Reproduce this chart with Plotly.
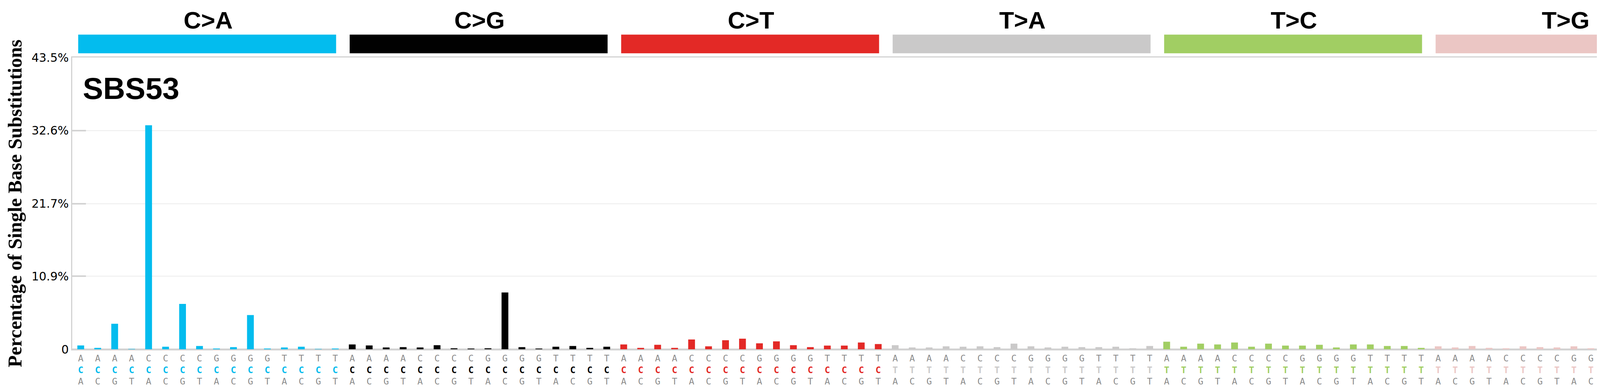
import plotly.graph_objects as go

mut_types = ["C>A", "C>G", "C>T", "T>A", "T>C", "T>G"]
colors = ["#03BCEE", "#010101", "#E32926", "#CAC9C9", "#A1CE63", "#EBC6C4"]
contexts = ["ACA","ACC","ACG","ACT","CCA","CCC","CCG","CCT","GCA","GCC","GCG","GCT","TCA","TCC","TCG","TCT"]
ca = [0.57,0.21,3.8,0.02,33.4,0.38,6.76,0.49,0.06,0.32,5.1,0.1,0.27,0.38,0.04,0.1]
cg = [0.72,0.57,0.27,0.32,0.27,0.61,0.15,0.06,0.15,8.47,0.32,0.06,0.38,0.49,0.21,0.38]
ct = [0.72,0.21,0.67,0.21,1.46,0.44,1.35,1.58,0.89,1.18,0.61,0.32,0.55,0.55,1.01,0.78]
ta = [0.61,0.27,0.27,0.44,0.38,0.44,0.32,0.84,0.44,0.27,0.38,0.32,0.32,0.38,0.15,0.49]
tc = [1.13,0.38,0.84,0.72,1.01,0.38,0.84,0.55,0.55,0.67,0.27,0.72,0.72,0.49,0.49,0.21]
tg = [0.44,0.27,0.49,0.21,0.15,0.44,0.32,0.27,0.44,0.15,0.49,0.21,0.15,0.44,0.61,0.72]
series = [ca, cg, ct, ta, tc, tg]
ytick_vals = [0, 10.9, 21.7, 32.6, 43.5]
ytick_text = ["0", "10.9%", "21.7%", "32.6%", "43.5%"]
sig_name = "SBS53"

fig = go.Figure()
xs, ys, cols, ttext = [], [], [], []
for g, (vals, c) in enumerate(zip(series, colors)):
    ref = mut_types[g][0]
    for k, (ctx, v) in enumerate(zip(contexts, vals)):
        xs.append(g * 16 + k)
        ys.append(v)
        cols.append(c)
        ttext.append(f"{ctx[0]}<br><b><span style='color:{c}'>{ref}</span></b><br>{ctx[2]}")

fig.add_trace(go.Bar(x=xs, y=ys, marker=dict(color=cols, line=dict(width=0)), showlegend=False))

for g, (m, c) in enumerate(zip(mut_types, colors)):
    fig.add_shape(type="rect", xref="x", yref="paper", x0=g*16-0.5+0.35, x1=g*16+15.5-0.45,
                  y0=1.0144, y1=1.0785, fillcolor=c, line=dict(width=0))
    fig.add_annotation(x=g*16+7.5, y=1.128, xref="x", yref="paper", text=f"<b>{m}</b>",
                       yanchor="middle", xanchor="center",
                       showarrow=False, font=dict(family="Liberation Sans, Arial", size=62, color="black"))

fig.add_annotation(x=0.006, y=0.894, xref="paper", yref="paper", text=f"<b>{sig_name}</b>",
                   xanchor="left", yanchor="middle",
                   showarrow=False, font=dict(family="Liberation Sans, Arial", size=78, color="black"))

fig.update_layout(
    width=4393, height=992, plot_bgcolor="white", paper_bgcolor="white",
    margin=dict(l=177, r=46, t=139, b=89), bargap=0.6,
    xaxis=dict(tickmode="array", tickvals=xs, ticktext=ttext, tickangle=0, range=[-0.5, 95.5],
               tickfont=dict(family="DejaVu Sans Mono", size=23, color="#8c8c8c"),
               showgrid=False, showline=True, linecolor="#d3d3d3", linewidth=3, mirror=True, ticks=""),
    yaxis=dict(range=[0, 43.5], tickmode="array", tickvals=ytick_vals, ticktext=ytick_text,
               tickfont=dict(family="DejaVu Sans", size=30, color="black"),
               showgrid=True, gridcolor="#ececec", gridwidth=2, zeroline=True, zerolinecolor="#d3d3d3", zerolinewidth=5,
               showline=True, linecolor="#d3d3d3", linewidth=3, mirror="ticks", ticks="inside", ticklen=35,
               tickwidth=4, tickcolor="#d3d3d3",
               title=dict(text="<b>Percentage of Single Base Substitutions</b>", standoff=10,
                          font=dict(family="Liberation Serif, Times New Roman", size=50, color="black"))),
)
fig.write_html("out.html")
